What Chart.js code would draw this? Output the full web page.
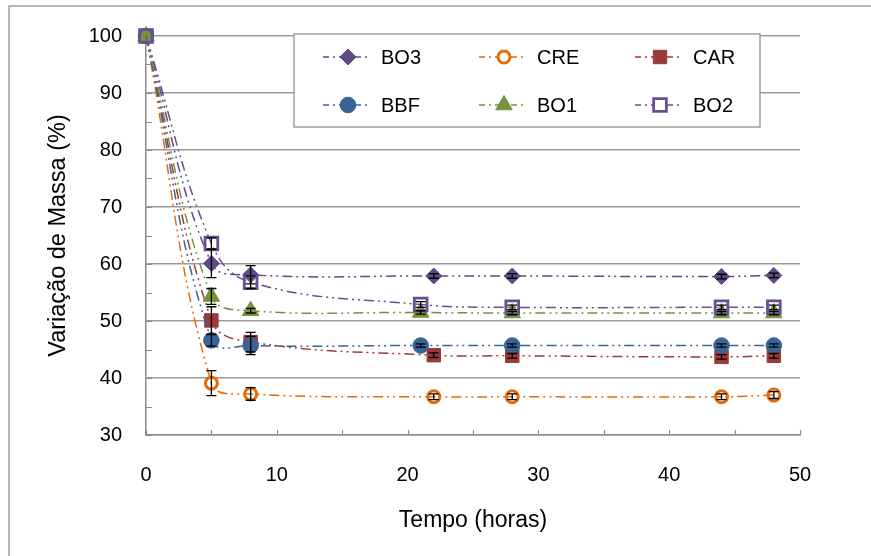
<!DOCTYPE html>
<html>
<head>
<meta charset="utf-8">
<script src="https://cdn.jsdelivr.net/npm/chart.js@4/dist/chart.umd.min.js"></script>
<style>
  html, body { margin: 0; padding: 0; background: #ffffff; }
  #wrap { position: relative; width: 871px; height: 556px; }
</style>
</head>
<body>
<div id="wrap"><canvas id="c" width="871" height="556"></canvas></div>
<script>
// Sampling times (hours); three samples were weighed at 21 h, the rest at 22 h
const hoursA = [0, 5, 8, 22, 28, 44, 48];
const hoursB = [0, 5, 8, 21, 28, 44, 48];

// Mass variation (%) per sample
const seriesNames = ['BO3', 'CRE', 'CAR', 'BBF', 'BO1', 'BO2'];
const bo3 = [100, 60.1, 58.1, 57.9, 57.9, 57.8, 58.0];
const cre = [100, 39.1, 37.2, 36.7, 36.7, 36.7, 37.0];
const car = [100, 50.1, 46.3, 44.0, 43.9, 43.7, 43.9];
const bbf = [100, 46.6, 45.7, 45.7, 45.7, 45.7, 45.7];
const bo1 = [100, 54.3, 51.8, 51.5, 51.4, 51.4, 51.4];
const bo2 = [100, 63.6, 56.8, 52.9, 52.4, 52.4, 52.4];

// Standard deviations (±) for the error bars
const bo3Err = [0, 2.5, 1.6, 0.4, 0.4, 0.4, 0.4];
const creErr = [0, 2.2, 1.1, 0.5, 0.5, 0.5, 0.6];
const carErr = [0, 2.4, 1.7, 0.4, 0.4, 0.4, 0.4];
const bbfErr = [0, 1.0, 1.6, 0.3, 0.3, 0.3, 0.3];
const bo1Err = [0, 1.4, 0.4, 0.3, 0.3, 0.3, 0.3];
const bo2Err = [0, 1.0, 1.1, 0.5, 0.4, 0.4, 0.4];

// Axis tick values
const xTicks = [0, 10, 20, 30, 40, 50];
const yTicks = [30, 40, 50, 60, 70, 80, 90, 100];

const FONT = "'Liberation Sans', Arial, sans-serif";
const DASH = [10, 4, 2, 4, 2, 4];

function pts(xs, ys) { return xs.map((x, i) => ({ x: x, y: ys[i] })); }

// style per series: colour, marker, radius, filled?
const styles = [
  { c: '#5E4A85', shape: 'rectRot', r: 8, fill: true },
  { c: '#E46C0A', shape: 'circle', r: 6, fill: false, bw: 3 },
  { c: '#993B38', shape: 'rect', r: 9.5, fill: true },
  { c: '#3A6497', shape: 'circle', r: 7.8, fill: true },
  { c: '#76923C', shape: 'triangle', r: 9.5, fill: true },
  { c: '#674E95', shape: 'rect', r: 9, fill: false, bw: 2.8 }
];
const values = [bo3, cre, car, bbf, bo1, bo2];
const xsets = [hoursA, hoursA, hoursA, hoursB, hoursB, hoursB];
const errs = [bo3Err, creErr, carErr, bbfErr, bo1Err, bo2Err];

const datasets = seriesNames.map((name, i) => {
  const s = styles[i];
  return {
    label: name,
    data: pts(xsets[i], values[i]),
    errors: errs[i],
    showLine: true,
    clip: false,
    borderColor: s.c,
    borderWidth: 1.5,
    borderDash: DASH,
    tension: 0.4,
    pointStyle: s.shape,
    pointRadius: s.r,
    pointHoverRadius: s.r,
    pointBackgroundColor: s.fill ? s.c : 'rgba(0,0,0,0)',
    pointBorderColor: s.c,
    pointBorderWidth: s.bw || 1,
    order: seriesNames.length - i
  };
});

// Outer frame of the chart object
const framePlugin = {
  id: 'frame',
  beforeDraw(chart) {
    const ctx = chart.ctx;
    ctx.save();
    ctx.strokeStyle = '#a0a0a0';
    ctx.lineWidth = 1.5;
    ctx.beginPath();
    ctx.moveTo(9, chart.height);
    ctx.lineTo(9, 6);
    ctx.lineTo(chart.width, 6);
    ctx.stroke();
    ctx.restore();
  }
};

// Inside tick marks every 5 units on both axes
const tickMarkPlugin = {
  id: 'tickMarks',
  beforeDatasetsDraw(chart) {
    const ctx = chart.ctx, xs = chart.scales.x, ys = chart.scales.y;
    const a = chart.chartArea;
    ctx.save();
    ctx.strokeStyle = '#8c8c8c';
    ctx.lineWidth = 1.2;
    ctx.beginPath();
    for (let v = xs.min; v <= xs.max; v += 5) {
      const px = Math.round(xs.getPixelForValue(v)) + 0.5;
      ctx.moveTo(px, a.bottom);
      ctx.lineTo(px, a.bottom - 5);
    }
    for (let v = ys.min; v <= ys.max; v += 5) {
      const py = Math.round(ys.getPixelForValue(v)) + 0.5;
      ctx.moveTo(a.left, py);
      ctx.lineTo(a.left + 6, py);
    }
    ctx.stroke();
    ctx.restore();
  }
};

// Vertical error bars with caps
const errorBarPlugin = {
  id: 'errorBars',
  afterDatasetsDraw(chart) {
    const ctx = chart.ctx, ys = chart.scales.y;
    ctx.save();
    ctx.strokeStyle = '#000000';
    ctx.lineWidth = 1.3;
    chart.data.datasets.forEach((ds, di) => {
      const meta = chart.getDatasetMeta(di);
      meta.data.forEach((el, i) => {
        const e = ds.errors[i];
        if (!e) return;
        const y = ds.data[i].y;
        const px = el.x;
        const top = ys.getPixelForValue(y + e);
        const bot = ys.getPixelForValue(y - e);
        ctx.beginPath();
        ctx.moveTo(px, top); ctx.lineTo(px, bot);
        ctx.moveTo(px - 5, top); ctx.lineTo(px + 5, top);
        ctx.moveTo(px - 5, bot); ctx.lineTo(px + 5, bot);
        ctx.stroke();
      });
    });
    ctx.restore();
  }
};

function drawMarker(ctx, shape, x, y, r) {
  ctx.beginPath();
  if (shape === 'circle') {
    ctx.arc(x, y, r, 0, Math.PI * 2);
  } else if (shape === 'rect') {
    const s = r * Math.SQRT1_2;
    ctx.rect(x - s, y - s, 2 * s, 2 * s);
  } else if (shape === 'rectRot') {
    ctx.moveTo(x - r, y); ctx.lineTo(x, y - r); ctx.lineTo(x + r, y); ctx.lineTo(x, y + r);
    ctx.closePath();
  } else if (shape === 'triangle') {
    let a = 0;
    ctx.moveTo(x + Math.sin(a) * r, y - Math.cos(a) * r);
    a += 2 * Math.PI / 3;
    ctx.lineTo(x + Math.sin(a) * r, y - Math.cos(a) * r);
    a += 2 * Math.PI / 3;
    ctx.lineTo(x + Math.sin(a) * r, y - Math.cos(a) * r);
    ctx.closePath();
  }
}

// Boxed legend, three columns by two rows
const legendPlugin = {
  id: 'boxLegend',
  afterDraw(chart) {
    const ctx = chart.ctx;
    const box = { x: 294, y: 34, w: 466, h: 93 };
    ctx.save();
    ctx.fillStyle = '#ffffff';
    ctx.fillRect(box.x, box.y, box.w, box.h);
    ctx.strokeStyle = '#a0a0a0';
    ctx.lineWidth = 1.5;
    ctx.strokeRect(box.x, box.y, box.w, box.h);
    const colX = [323, 479, 635];
    const rowY = [57, 105];
    chart.data.datasets.forEach((ds, i) => {
      const s = styles[i];
      const lx = colX[i % 3], ly = rowY[Math.floor(i / 3)];
      ctx.strokeStyle = s.c;
      ctx.lineWidth = 1.5;
      ctx.setLineDash([6, 4, 2, 4]);
      ctx.beginPath();
      ctx.moveTo(lx, ly); ctx.lineTo(lx + 47, ly);
      ctx.stroke();
      ctx.setLineDash([]);
      drawMarker(ctx, s.shape, lx + 25, ly, s.r);
      ctx.fillStyle = s.fill ? s.c : '#ffffff';
      ctx.fill();
      ctx.lineWidth = s.bw || 1;
      ctx.stroke();
      ctx.fillStyle = '#000000';
      ctx.font = '20px ' + FONT;
      ctx.textBaseline = 'middle';
      ctx.textAlign = 'left';
      ctx.fillText(ds.label, lx + 58, ly + 1);
    });
    ctx.restore();
  }
};

new Chart(document.getElementById('c'), {
  type: 'scatter',
  data: { datasets: datasets },
  options: {
    responsive: false,
    animation: false,
    events: [],
    layout: { padding: { left: 0, top: 34, right: 71, bottom: 0 } },
    plugins: { legend: { display: false }, tooltip: { enabled: false } },
    scales: {
      x: {
        type: 'linear',
        min: xTicks[0],
        max: xTicks[xTicks.length - 1],
        afterBuildTicks(scale) { scale.ticks = xTicks.map(v => ({ value: v })); },
        afterFit(scale) { scale.height = 121; },
        grid: { display: false, drawTicks: false },
        border: { display: true, color: '#8c8c8c', width: 1.5 },
        ticks: { color: '#000', font: { family: FONT, size: 20 }, padding: 28 },
        title: { display: true, text: 'Tempo (horas)', color: '#000', font: { family: FONT, size: 23 }, padding: { top: 0, bottom: 22 } }
      },
      y: {
        type: 'linear',
        min: yTicks[0],
        max: yTicks[yTicks.length - 1],
        afterBuildTicks(scale) { scale.ticks = yTicks.map(v => ({ value: v })); },
        afterFit(scale) { scale.width = 146; },
        grid: { display: true, drawTicks: false, color: '#9a9a9a', lineWidth: 1.5 },
        border: { display: true, color: '#8c8c8c', width: 1.5 },
        ticks: { color: '#000', font: { family: FONT, size: 20 }, padding: 24 },
        title: { display: true, text: 'Variação de Massa (%)', color: '#000', font: { family: FONT, size: 23.5 }, padding: { top: 44, bottom: 0 } }
      }
    }
  },
  plugins: [framePlugin, tickMarkPlugin, errorBarPlugin, legendPlugin]
});
</script>
</body>
</html>
